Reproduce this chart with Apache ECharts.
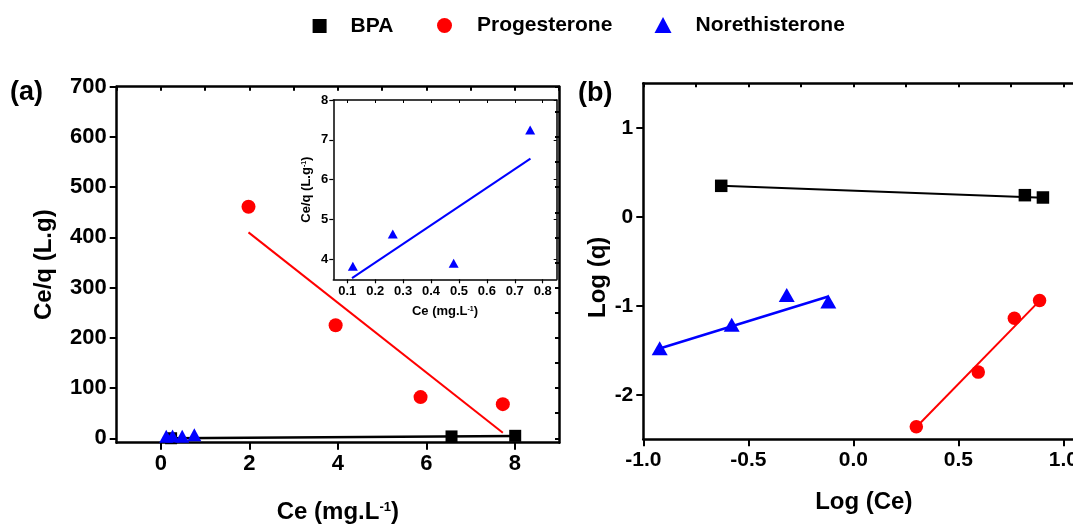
<!DOCTYPE html>
<html>
<head>
<meta charset="utf-8">
<script src="https://cdn.jsdelivr.net/npm/echarts@6/dist/echarts.min.js"></script>
<style>html,body{margin:0;padding:0;background:#fff}#c{width:1073px;height:524px}</style>
</head>
<body>
<div id="c"></div>
<script>
// ---------- data ----------
// Panel (a): Ce vs Ce/q
const bpaA = [[0.23, 0.1], [6.57, 3.7], [8.01, 4.9]];
const bpaFitA = [[0.23, 0.07], [8.01, 4.75]];
const progA = [[1.98, 461], [3.95, 225], [5.87, 82], [7.73, 68]];
const progFitA = [[1.98, 410], [7.73, 11]];
const norA = [[0.12, 3.83], [0.263, 4.64], [0.481, 3.9], [0.755, 7.25]];
// inset (Norethisterone)
const norInset = [[0.12, 3.83], [0.263, 4.64], [0.481, 3.9], [0.755, 7.25]];
const norFitInset = [[0.117, 3.53], [0.756, 6.53]];
// Panel (b): Log(Ce) vs Log(q)
const bpaB = [[-0.629, 0.348], [0.817, 0.243], [0.903, 0.217]];
const bpaFitB = [[-0.629, 0.35], [0.903, 0.215]];
const progB = [[0.30, -2.36], [0.595, -1.745], [0.767, -1.14], [0.887, -0.94]];
const progFitB = [[0.305, -2.35], [0.868, -0.99]];
const norB = [[-0.922, -1.476], [-0.579, -1.214], [-0.317, -0.878], [-0.119, -0.953]];
const norFitB = [[-0.922, -1.48], [-0.119, -0.895]];
// tick labels
const ticksAx = [0, 2, 4, 6, 8];
const ticksAy = [0, 100, 200, 300, 400, 500, 600, 700];
const ticksInsetX = [0.1, 0.2, 0.3, 0.4, 0.5, 0.6, 0.7, 0.8];
const ticksInsetY = [4, 5, 6, 7, 8];
const ticksBx = [-1.0, -0.5, 0.0, 0.5, 1.0];
const ticksBy = [-2, -1, 0, 1];
const legendNames = ['BPA', 'Progesterone', 'Norethisterone'];

const FONT = "'Liberation Sans', Arial, sans-serif";
const BLACK = '#000', RED = '#ff0000', BLUE = '#0000ff';

function mainAxis(pos, idx, gi, min, max, ticks, opts) {
  opts = opts || {};
  const isMirror = pos === 'top' || pos === 'right';
  const a = {
    type: 'value', gridIndex: gi, position: pos, min: min, max: max,
    splitLine: {show: false},
    axisLine: {show: true, onZero: false, lineStyle: {color: BLACK, width: opts.lw || 2.5}},
    axisTick: {show: true, inside: isMirror, length: opts.tl || 7, customValues: ticks,
               lineStyle: {color: BLACK, width: opts.tw || 2}},
    axisLabel: {show: !isMirror, customValues: ticks, margin: opts.margin || 10,
                fontFamily: FONT, fontWeight: 'bold', fontSize: opts.fs || 22, color: BLACK,
                formatter: opts.fmt},
  };
  if (opts.name && !isMirror) {
    a.name = opts.name;
    a.nameLocation = 'middle';
    a.nameGap = opts.nameGap;
    a.nameTextStyle = {fontFamily: FONT, fontWeight: 'bold', fontSize: opts.nfs || 24, color: BLACK,
      padding: opts.npad || 0,
      rich: {sup: {fontFamily: FONT, fontWeight: 'bold', fontSize: Math.round((opts.nfs || 24) * 0.55),
                   color: BLACK, verticalAlign: 'top'}}};
  }
  return a;
}

const gridA = {left: 116.7, top: 86.7, width: 442.3, height: 356, outerBoundsMode: 'none', containLabel: false};
const gridI = {left: 333.3, top: 100, width: 223.4, height: 179.3, outerBoundsMode: 'none', containLabel: false};
const gridB = {left: 643.3, top: 83.3, width: 441, height: 356, outerBoundsMode: 'none', containLabel: false};

const xAxes = [
  mainAxis('bottom', 0, 0, -1, 9, ticksAx, {name: 'Ce (mg.L{sup|-1})', nameGap: 58, margin: 10}),
  mainAxis('top', 1, 0, -1, 9, [-1,0,1,2,3,4,5,6,7,8,9], {tl: 4}),
  mainAxis('bottom', 2, 1, 0.05, 0.85, ticksInsetX, {name: 'Ce (mg.L{sup|-1})', nameGap: 26, nfs: 13, fs: 13, margin: 6, lw: 1.5, tl: 4, tw: 1.2, fmt: v => v.toFixed(1)}),
  mainAxis('top', 3, 1, 0.05, 0.85, ticksInsetX, {lw: 1.5, tl: 3, tw: 1}),
  mainAxis('bottom', 4, 2, -1, 1.1, ticksBx, {name: 'Log (Ce)', nameGap: 51, fs: 21, fmt: v => v.toFixed(1)}),
  mainAxis('top', 5, 2, -1, 1.1, [-1,-0.75,-0.5,-0.25,0,0.25,0.5,0.75,1.0], {tl: 4}),
];
const yAxes = [
  mainAxis('left', 0, 0, -8.8, 700, ticksAy, {name: 'Ce/q (L.g)', nameGap: 60}),
  mainAxis('right', 1, 0, -8.8, 700, [0,50,100,150,200,250,300,350,400,450,500,550,600,650,700], {tl: 4}),
  mainAxis('left', 2, 1, 3.5, 8, ticksInsetY, {name: 'Ce/q (L.g{sup|-1})', nameGap: 20, nfs: 13, fs: 13, margin: 5, lw: 1.5, tl: 4, tw: 1.2}),
  mainAxis('right', 3, 1, 3.5, 8, ticksInsetY, {lw: 1.5, tl: 3, tw: 1}),
  mainAxis('left', 4, 2, -2.5, 1.5, ticksBy, {name: 'Log (q)', nameGap: 28, fs: 21, npad: [0, 32, 0, 0]}),
  mainAxis('right', 5, 2, -2.5, 1.5, [-2.5,-2,-1.5,-1,-0.5,0,0.5,1,1.5], {tl: 4}),
];

function scatter(name, data, xi, yi, symbol, size, color) {
  return {type: 'scatter', name: name, xAxisIndex: xi, yAxisIndex: yi, data: data,
    symbol: symbol, symbolSize: size, itemStyle: {color: color, opacity: 1}, z: 5};
}
function fit(name, data, xi, yi, color, w) {
  return {type: 'line', name: name, xAxisIndex: xi, yAxisIndex: yi, data: data,
    symbol: 'none', lineStyle: {color: color, width: w}, z: 3, silent: true};
}

const series = [
  scatter('BPA', bpaA, 0, 0, 'rect', 12, BLACK),
  fit('BPA fit', bpaFitA, 0, 0, BLACK, 2.5),
  scatter('Progesterone', progA, 0, 0, 'circle', 14, RED),
  fit('Progesterone fit', progFitA, 0, 0, RED, 2),
  scatter('Norethisterone', norA, 0, 0, 'triangle', [14, 13], BLUE),
  scatter('Norethisterone', norInset, 2, 2, 'triangle', [10, 9], BLUE),
  fit('Norethisterone fit', norFitInset, 2, 2, BLUE, 2),
  scatter('BPA', bpaB, 4, 4, 'rect', 12.5, BLACK),
  fit('BPA fit', bpaFitB, 4, 4, BLACK, 2),
  scatter('Progesterone', progB, 4, 4, 'circle', 13.5, RED),
  fit('Progesterone fit', progFitB, 4, 4, RED, 2),
  scatter('Norethisterone', norB, 4, 4, 'triangle', [16, 14], BLUE),
  fit('Norethisterone fit', norFitB, 4, 4, BLUE, 2.5),
];
series[4].z = 6;

function leg(name, icon, left, top, w, h, pad) {
  return {data: [{name: name, icon: icon}], left: left, top: top, itemWidth: w, itemHeight: h,
    selectedMode: false, padding: 0,
    textStyle: {fontFamily: FONT, fontWeight: 'bold', fontSize: 21, color: BLACK, padding: [0, 0, 0, pad]}};
}

const option = {
  animation: false,
  backgroundColor: '#fff',
  legend: [
    leg(legendNames[0], 'rect', 312.6, 15.5, 14, 14, 19),
    leg(legendNames[1], 'circle', 437, 15, 15, 15, 20),
    leg(legendNames[2], 'triangle', 654.5, 14.5, 17, 16, 19),
  ],
  grid: [gridA, gridI, gridB],
  xAxis: xAxes,
  yAxis: yAxes,
  series: series,
  graphic: [
    {type: 'text', left: 10, top: 79, style: {text: '(a)', fontFamily: FONT, fontWeight: 'bold', fontSize: 27, fill: BLACK}},
    {type: 'text', left: 578, top: 80, style: {text: '(b)', fontFamily: FONT, fontWeight: 'bold', fontSize: 27, fill: BLACK}},
  ],
};

const chart = echarts.init(document.getElementById('c'), null, {renderer: 'canvas'});
chart.setOption(option);
</script>
</body>
</html>
